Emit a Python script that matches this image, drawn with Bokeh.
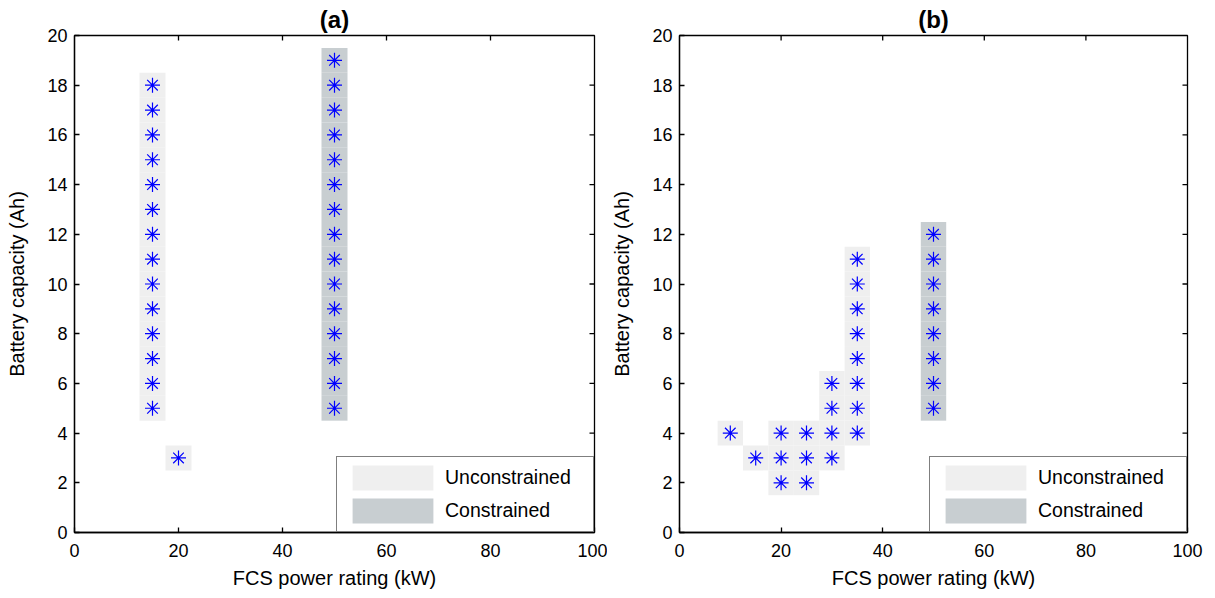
from bokeh.plotting import figure
from bokeh.layouts import row
from bokeh.models import Range1d, Legend, LegendItem, FixedTicker, ColumnDataSource
from bokeh.embed import file_html
from bokeh.resources import INLINE

# ---------------- data ----------------
x_ticks = [0, 20, 40, 60, 80, 100]
y_ticks = [0, 2, 4, 6, 8, 10, 12, 14, 16, 18, 20]

# panel (a)
a_unc_fcs = [15, 15, 15, 15, 15, 15, 15, 15, 15, 15, 15, 15, 15, 15, 20]
a_unc_bat = [5, 6, 7, 8, 9, 10, 11, 12, 13, 14, 15, 16, 17, 18, 3]
a_con_fcs = [50, 50, 50, 50, 50, 50, 50, 50, 50, 50, 50, 50, 50, 50, 50]
a_con_bat = [5, 6, 7, 8, 9, 10, 11, 12, 13, 14, 15, 16, 17, 18, 19]

# panel (b)
b_unc_fcs = [10, 15, 20, 20, 20, 25, 25, 25, 30, 30, 30, 30, 35, 35, 35, 35, 35, 35, 35, 35]
b_unc_bat = [4, 3, 2, 3, 4, 2, 3, 4, 3, 4, 5, 6, 4, 5, 6, 7, 8, 9, 10, 11]
b_con_fcs = [50, 50, 50, 50, 50, 50, 50, 50]
b_con_bat = [5, 6, 7, 8, 9, 10, 11, 12]

FONT = "Liberation Sans"
UNC_COLOR = "#efefef"
CON_COLOR = "#c8ced1"
STAR_COLOR = "#0000ff"
CELL_W = 5
CELL_H = 1


def style_axis(ax):
    ax.axis_line_color = "black"
    ax.axis_line_width = 1.3
    ax.major_tick_line_color = "black"
    ax.major_tick_line_width = 1.3
    ax.major_tick_in = 5
    ax.major_tick_out = 0
    ax.minor_tick_line_color = None
    ax.major_label_text_font = FONT
    ax.major_label_text_color = "black"
    ax.major_label_text_font_size = "18px"
    ax.axis_label_text_font = FONT
    ax.axis_label_text_font_size = "20px"
    ax.axis_label_text_font_style = "normal"
    ax.axis_label_text_color = "black"


def make_panel(title, unc_x, unc_y, con_x, con_y, width, left, right):
    p = figure(width=width, height=598, output_backend="svg", toolbar_location=None,
               x_range=Range1d(x_ticks[0], x_ticks[-1]), y_range=Range1d(y_ticks[0], y_ticks[-1]),
               min_border_left=left, min_border_right=right,
               min_border_top=35, min_border_bottom=66,
               x_axis_label="FCS power rating (kW)",
               y_axis_label="Battery capacity (Ah)")
    p.title.text = title
    p.title.align = "center"
    p.title.text_font = FONT
    p.title.text_font_size = "24px"
    p.title.text_font_style = "bold"
    p.title.text_color = "black"
    p.title.offset = 0
    p.title.standoff = 5
    p.xgrid.visible = False
    p.ygrid.visible = False
    p.outline_line_color = "black"
    p.outline_line_width = 1.3
    p.outline_line_alpha = 1.0
    p.background_fill_color = "white"
    p.border_fill_color = "white"

    xa = p.xaxis[0]
    ya = p.yaxis[0]
    xa.ticker = FixedTicker(ticks=x_ticks)
    ya.ticker = FixedTicker(ticks=y_ticks)
    style_axis(xa)
    style_axis(ya)
    xa.major_label_standoff = 11
    ya.major_label_standoff = 7
    xa.axis_label_standoff = 7
    ya.axis_label_standoff = 16

    src_u = ColumnDataSource(dict(x=unc_x, y=unc_y))
    src_c = ColumnDataSource(dict(x=con_x, y=con_y))
    r_u = p.rect("x", "y", width=CELL_W, height=CELL_H, source=src_u,
                 fill_color=UNC_COLOR, line_color=None)
    r_c = p.rect("x", "y", width=CELL_W, height=CELL_H, source=src_c,
                 fill_color=CON_COLOR, line_color=None)
    p.scatter("x", "y", source=src_u, marker="asterisk", size=15,
              line_color=STAR_COLOR, line_width=1.2)
    p.scatter("x", "y", source=src_c, marker="asterisk", size=15,
              line_color=STAR_COLOR, line_width=1.2)

    # inward ticks on the top and right frame edges (MATLAB box style)
    p.ray(x=x_ticks[1:-1], y=[y_ticks[-1]] * (len(x_ticks) - 2), length=5,
          length_units="screen", angle=-90, angle_units="deg",
          line_color="black", line_width=1.3)
    p.ray(x=[x_ticks[-1]] * (len(y_ticks) - 2), y=y_ticks[1:-1], length=5,
          length_units="screen", angle=180, angle_units="deg",
          line_color="black", line_width=1.3)

    legend = Legend(items=[LegendItem(label="Unconstrained", renderers=[r_u]),
                           LegendItem(label="Constrained", renderers=[r_c])],
                    location="bottom_right", margin=0, padding=5, spacing=2,
                    glyph_width=101, glyph_height=31, label_standoff=2,
                    label_width=143,
                    border_line_color="black", border_line_width=1.5,
                    background_fill_color="white", background_fill_alpha=1.0,
                    label_text_font=FONT, label_text_font_size="19.5px",
                    label_text_color="black")
    p.add_layout(legend)
    return p


pa = make_panel("(a)", a_unc_fcs, a_unc_bat, a_con_fcs, a_con_bat, 607, 74, 13)
pb = make_panel("(b)", b_unc_fcs, b_unc_bat, b_con_fcs, b_con_bat, 608, 72, 28)

layout = row(pa, pb)
open("out.html", "w").write(file_html(layout, INLINE))
